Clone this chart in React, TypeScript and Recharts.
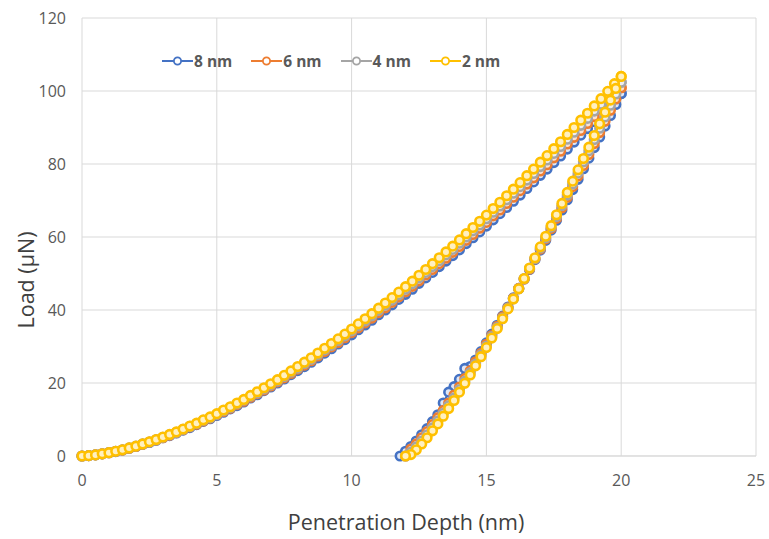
import React from 'react';
import { ScatterChart, Scatter, XAxis, YAxis, CartesianGrid, Legend } from 'recharts';

// Penetration depth (nm) during loading, shared by all series
const loadDepth = [
  0, 0.25, 0.5, 0.75, 1, 1.25, 1.5, 1.75, 2, 2.25, 2.5, 2.75, 3, 3.25, 3.5, 3.75, 4, 4.25, 4.5, 4.75,
  5, 5.25, 5.5, 5.75, 6, 6.25, 6.5, 6.75, 7, 7.25, 7.5, 7.75, 8, 8.25, 8.5, 8.75, 9, 9.25, 9.5, 9.75,
  10, 10.25, 10.5, 10.75, 11, 11.25, 11.5, 11.75, 12, 12.25, 12.5, 12.75, 13, 13.25, 13.5, 13.75,
  14, 14.25, 14.5, 14.75, 15, 15.25, 15.5, 15.75, 16, 16.25, 16.5, 16.75, 17, 17.25, 17.5, 17.75,
  18, 18.25, 18.5, 18.75, 19, 19.25, 19.5, 19.75, 20,
];

// Penetration depth (nm) during unloading, shared by all series
const unloadDepth = [
  20, 19.8, 19.6, 19.4, 19.2, 19.0, 18.8, 18.6, 18.4, 18.2, 18.0, 17.8, 17.6, 17.4, 17.2, 17.0,
  16.8, 16.6, 16.4, 16.2, 16.0, 15.8, 15.6, 15.4, 15.2, 15.0, 14.8, 14.6, 14.4, 14.2, 14.0, 13.8,
  13.6, 13.4, 13.2, 13.0, 12.8, 12.6, 12.4, 12.2, 12.0, 11.8,
];

// Load (µN) — loading branch
const load8nm = [
  0, 0.1, 0.3, 0.6, 0.9, 1.2, 1.6, 2.1, 2.6, 3.2, 3.7, 4.3, 5.0, 5.6, 6.3, 7.1, 7.8, 8.6, 9.5, 10.2,
  11.1, 12.0, 12.9, 13.8, 14.8, 15.9, 16.8, 17.9, 18.9, 20.0, 21.1, 22.3, 23.4, 24.5, 25.7, 26.9,
  28.2, 29.4, 30.7, 31.9, 33.2, 34.6, 35.9, 37.2, 38.7, 40.0, 41.4, 42.9, 44.3, 45.7, 47.3, 48.8,
  50.3, 51.9, 53.4, 54.9, 56.5, 58.2, 59.8, 61.4, 63.0, 64.7, 66.4, 68.1, 69.8, 71.5, 73.3, 75.1,
  76.9, 78.6, 80.4, 82.2, 84.1, 86.0, 87.9, 89.7, 91.6, 93.5, 95.4, 97.4, 99.3,
];
const load6nm = [
  0, 0.1, 0.3, 0.6, 0.9, 1.3, 1.6, 2.1, 2.6, 3.2, 3.8, 4.4, 5.0, 5.7, 6.4, 7.2, 8.0, 8.7, 9.6, 10.4,
  11.3, 12.2, 13.1, 14.1, 15.0, 16.1, 17.1, 18.1, 19.2, 20.3, 21.4, 22.6, 23.8, 24.9, 26.1, 27.4,
  28.6, 29.9, 31.1, 32.4, 33.8, 35.1, 36.5, 37.8, 39.3, 40.6, 42.1, 43.6, 45.0, 46.5, 48.0, 49.6,
  51.1, 52.7, 54.2, 55.8, 57.4, 59.1, 60.7, 62.4, 64.0, 65.8, 67.4, 69.2, 70.9, 72.7, 74.5, 76.2,
  78.1, 79.8, 81.7, 83.5, 85.5, 87.3, 89.2, 91.1, 93.0, 95.0, 96.9, 98.9, 100.9,
];
const load4nm = [
  0, 0.1, 0.3, 0.6, 0.9, 1.3, 1.7, 2.2, 2.7, 3.3, 3.8, 4.4, 5.1, 5.8, 6.5, 7.3, 8.1, 8.9, 9.8, 10.5,
  11.4, 12.4, 13.3, 14.3, 15.3, 16.4, 17.3, 18.4, 19.5, 20.6, 21.8, 23.0, 24.1, 25.3, 26.5, 27.8,
  29.1, 30.3, 31.6, 32.9, 34.3, 35.7, 37.0, 38.4, 39.9, 41.3, 42.7, 44.2, 45.7, 47.2, 48.8, 50.3,
  51.9, 53.5, 55.1, 56.6, 58.3, 60.0, 61.7, 63.3, 65.0, 66.8, 68.5, 70.2, 72.0, 73.8, 75.6, 77.4,
  79.3, 81.1, 82.9, 84.8, 86.8, 88.7, 90.6, 92.5, 94.5, 96.4, 98.4, 100.5, 102.4,
];
const load2nm = [
  0, 0.1, 0.3, 0.6, 0.9, 1.3, 1.7, 2.2, 2.7, 3.3, 3.9, 4.5, 5.2, 5.9, 6.6, 7.4, 8.2, 9.0, 9.9, 10.7,
  11.6, 12.6, 13.5, 14.5, 15.5, 16.6, 17.6, 18.7, 19.8, 20.9, 22.1, 23.3, 24.5, 25.7, 26.9, 28.2,
  29.5, 30.8, 32.1, 33.4, 34.8, 36.2, 37.6, 39.0, 40.5, 41.9, 43.4, 44.9, 46.4, 47.9, 49.5, 51.1,
  52.7, 54.3, 55.9, 57.5, 59.2, 60.9, 62.6, 64.3, 66.0, 67.8, 69.5, 71.3, 73.1, 74.9, 76.8, 78.6,
  80.5, 82.3, 84.2, 86.1, 88.1, 90.0, 92.0, 93.9, 95.9, 97.9, 99.9, 102.0, 104.0,
];

// Load (µN) — unloading branch
const unload8nm = [
  99.3, 96.3, 93.3, 90.4, 87.4, 84.5, 81.6, 78.7, 75.8, 73.0, 70.2, 67.4, 64.6, 61.9, 59.1, 56.4,
  53.8, 51.1, 48.5, 45.9, 43.3, 40.8, 38.3, 35.8, 33.4, 31.0, 28.6, 26.3, 24.5, 24.0, 21.0, 19.0,
  17.5, 14.5, 11.3, 9.4, 7.5, 5.8, 4.1, 2.6, 1.3, 0,
];
const unload6nm = [
  100.9, 97.8, 94.7, 91.7, 88.6, 85.6, 82.6, 79.6, 76.7, 73.8, 70.9, 68.0, 65.1, 62.3, 59.5, 56.7,
  54.0, 51.2, 48.5, 45.9, 43.2, 40.6, 38.1, 35.5, 33.0, 30.6, 28.1, 25.8, 23.4, 21.2, 18.9, 16.7,
  14.5, 12.5, 10.5, 8.6, 6.7, 5.0, 3.3, 1.9, 0, null,
];
const unload4nm = [
  102.4, 99.2, 96.1, 92.9, 89.8, 86.7, 83.6, 80.6, 77.5, 74.5, 71.5, 68.6, 65.6, 62.7, 59.8, 57.0,
  54.1, 51.4, 48.6, 45.8, 43.1, 40.5, 37.8, 35.2, 32.7, 30.1, 27.7, 25.2, 22.8, 20.5, 18.2, 15.9,
  13.8, 11.7, 9.6, 7.7, 5.8, 4.1, 2.5, 1.1, 0, null,
];
const unload2nm = [
  104.0, 100.7, 97.5, 94.2, 91.0, 87.8, 84.6, 81.5, 78.4, 75.3, 72.2, 69.2, 66.1, 63.1, 60.2, 57.3,
  54.3, 51.5, 48.6, 45.8, 43.0, 40.3, 37.6, 34.9, 32.3, 29.7, 27.2, 24.7, 22.2, 19.9, 17.5, 15.2,
  13.0, 10.9, 8.8, 6.9, 5.0, 3.3, 1.7, 0.4, 0, null,
];

const seriesNames = ['8 nm', '6 nm', '4 nm', '2 nm'];
const seriesColors = ['#4472C4', '#ED7D31', '#A5A5A5', '#FFC000'];
const seriesFills = ['#dfe7f6', '#fbe3d3', '#eeeeee', '#fff0c0'];
const xTicks = [0, 5, 10, 15, 20, 25];
const yTicks = [0, 20, 40, 60, 80, 100, 120];

const build = (loading: number[], unloading: (number | null)[]) => [
  ...loadDepth.map((d, i) => ({ x: d, y: loading[i] })),
  ...unloadDepth
    .map((d, i) => ({ x: d, y: unloading[i] }))
    .filter((p) => p.y !== null),
];

const seriesData = [
  build(load8nm, unload8nm),
  build(load6nm, unload6nm),
  build(load4nm, unload4nm),
  build(load2nm, unload2nm),
];

const FONT = '"Open Sans", sans-serif';

const makeShape = (color: string, fill: string) => (props: any) => (
  <circle cx={props.cx} cy={props.cy} r={4.3} fill={fill} stroke={color} strokeWidth={2.6} />
);

const LegendContent = () => (
  <div style={{ display: 'flex', alignItems: 'center', fontFamily: FONT }}>
    {seriesNames.map((name, i) => (
      <div key={name} style={{ display: 'flex', alignItems: 'center', marginRight: 19 }}>
        <svg width={31} height={14}>
          <line x1={0} y1={7} x2={31} y2={7} stroke={seriesColors[i]} strokeWidth={2} />
          <circle cx={15.5} cy={7} r={3.6} fill="#fff" stroke={seriesColors[i]} strokeWidth={1.8} />
        </svg>
        <span style={{ fontSize: 15.5, fontWeight: 700, color: '#595959', marginLeft: 1 }}>{name}</span>
      </div>
    ))}
  </div>
);

export default function App() {
  return (
    <div style={{ position: 'absolute', left: 0, top: 0, width: 769, height: 539, background: '#fff' }}>
      <ScatterChart width={769} height={539} margin={{ top: 18, right: 13, left: 0, bottom: 0 }}>
        <CartesianGrid stroke="#d9d9d9" strokeWidth={1} />
        <XAxis
          type="number"
          dataKey="x"
          domain={[0, 25]}
          ticks={xTicks}
          height={83}
          axisLine={{ stroke: '#d9d9d9' }}
          tickLine={false}
          tickSize={0}
          tickMargin={19}
          tick={{ fill: '#595959', fontSize: 16, fontFamily: FONT }}
          label={{
            content: () => (
              <text x={406} y={530} textAnchor="middle" fill="#404040" fontSize={21.5} fontFamily={FONT}>
                Penetration Depth (nm)
              </text>
            ),
          }}
        />
        <YAxis
          type="number"
          dataKey="y"
          domain={[0, 120]}
          ticks={yTicks}
          width={82}
          axisLine={false}
          tickLine={false}
          tickSize={0}
          tickMargin={16}
          tick={{ fill: '#595959', fontSize: 16, fontFamily: FONT }}
          label={{
            content: () => (
              <text
                x={25}
                y={280}
                transform="rotate(-90 25 280)"
                textAnchor="middle"
                dominantBaseline="central"
                fill="#404040"
                fontSize={21.5}
                fontFamily={FONT}
              >
                Load (μN)
              </text>
            ),
          }}
        />
        <Legend
          layout="vertical"
          verticalAlign="middle"
          align="center"
          content={() => <LegendContent />}
          wrapperStyle={{ position: 'absolute', left: 162, top: 50, width: 'auto', height: 'auto' }}
        />
        {seriesNames.map((name, i) => (
          <Scatter
            key={name}
            name={name}
            data={seriesData[i]}
            line={{ stroke: seriesColors[i], strokeWidth: 2 }}
            lineType="joint"
            shape={makeShape(seriesColors[i], seriesFills[i])}
            isAnimationActive={false}
          />
        ))}
      </ScatterChart>
    </div>
  );
}
